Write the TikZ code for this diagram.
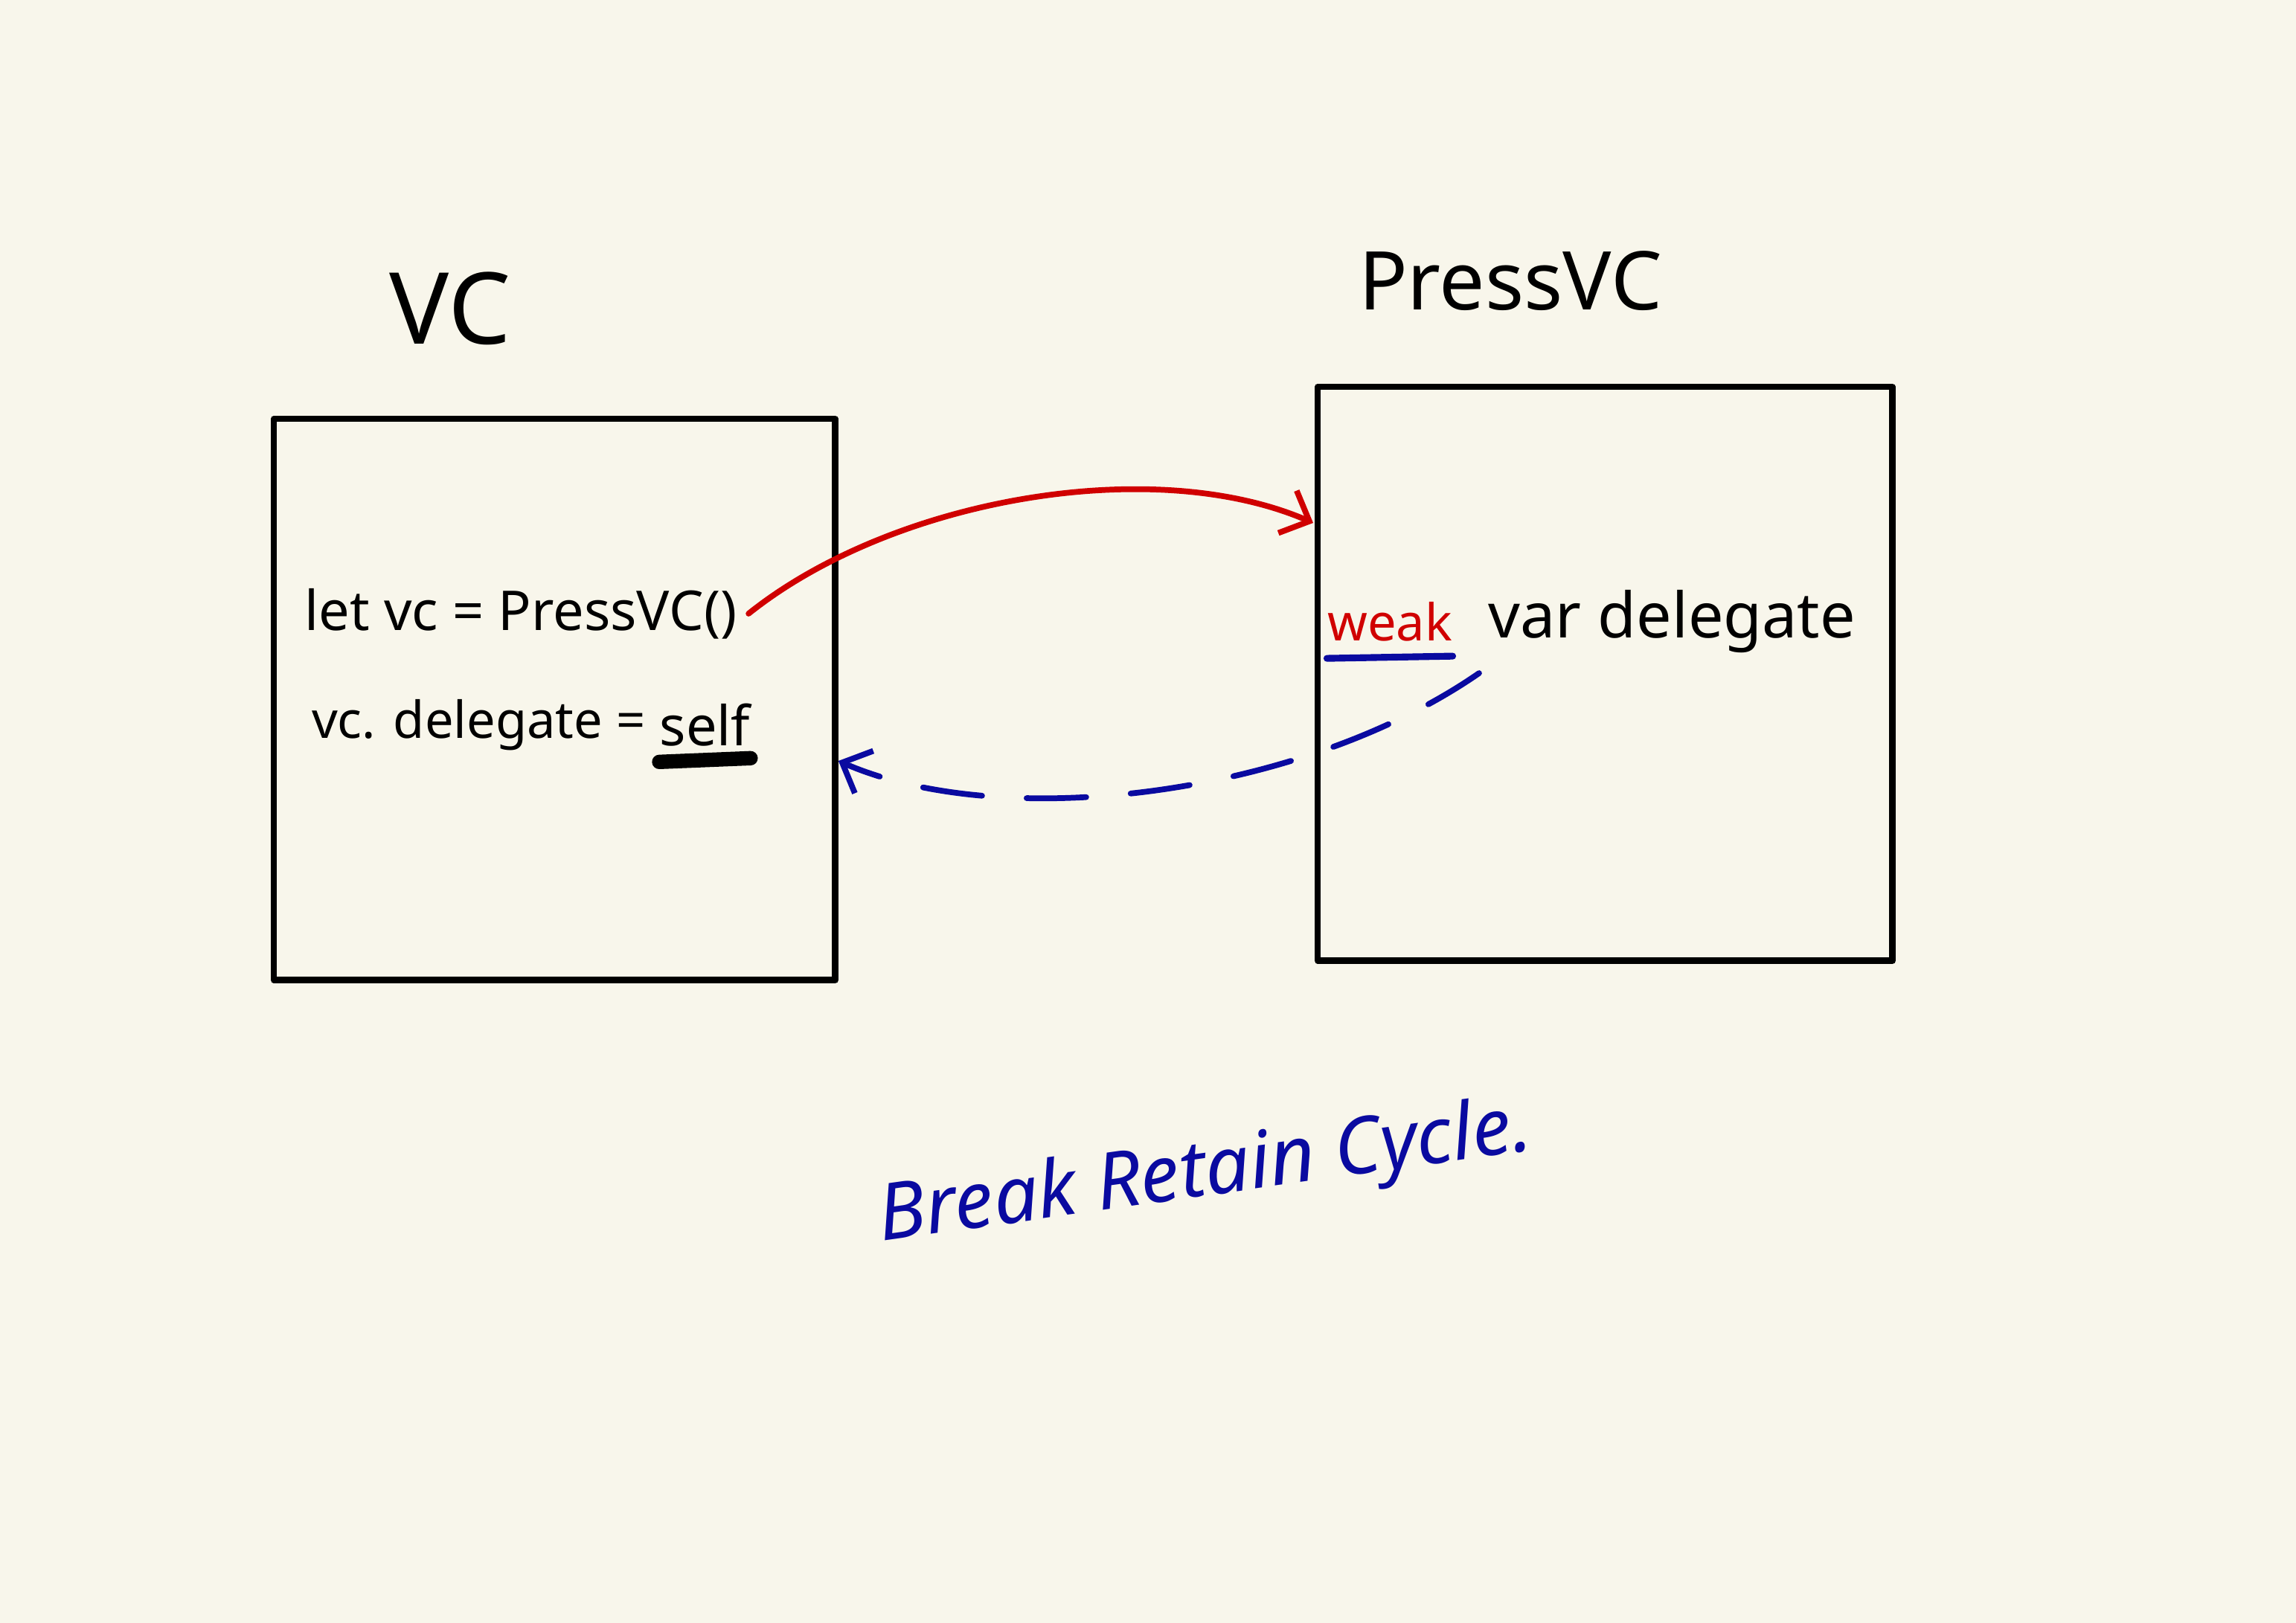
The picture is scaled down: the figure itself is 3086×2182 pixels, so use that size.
\documentclass[tikz,border=0pt]{standalone}
\usepackage{fontspec}
\setmainfont{Noto Sans}
\usetikzlibrary{arrows.meta}
\definecolor{paper}{HTML}{F8F6EB}
\definecolor{inkred}{RGB}{208,0,0}
\definecolor{inkblue}{RGB}{10,10,160}
\tikzset{
  box/.style={draw=black,line width=2.4pt,line join=round},
  hw/.style={inner sep=0pt,text=black},
  conn/.style={line width=2.2pt,line cap=round},
  barb/.style={-{Straight Barb[length=0.32cm,width=0.62cm,line width=2.2pt]}}
}
\begin{document}
\begin{tikzpicture}[x=0.01cm,y=0.01cm]
\fill[paper] (0,0) rectangle (3086,-2182);
\useasboundingbox (0,0) rectangle (3086,-2182);
% boxes
\node[box,minimum width=7.54cm,minimum height=7.54cm,anchor=north west] (vcbox) at (364,-559) {};
\node[box,minimum width=7.72cm,minimum height=7.71cm,anchor=north west] (pbox) at (1767,-516) {};
% titles
\node[hw,font=\fontsize{38}{44}\selectfont] (vct) at (605,-415) {VC};
\node[hw,font=\fontsize{31}{36}\selectfont] (pvct) at (2030,-378) {PressVC};
% code in VC
\node[hw,font=\fontsize{21}{26}\selectfont] (l1) at (700,-825) {let vc = PressVC()};
\node[hw,font=\fontsize{19.5}{24}\selectfont,anchor=east] (l2a) at (868,-975) {vc. delegate =};
\node[hw,font=\fontsize{21}{26}\selectfont,anchor=west] (self) at ([xshift=0.18cm]l2a.east) {self};
\draw[line width=5.5pt,line cap=round] ([yshift=-0.2cm]self.south west) -- ([yshift=-0.15cm]self.south east);
% code in PressVC
\node[hw,text=inkred,font=\fontsize{19.5}{24}\selectfont] (weak) at (1868,-836) {weak};
\node[hw,font=\fontsize{24}{28}\selectfont,anchor=west] (vard) at (2000,-836) {var delegate};
\draw[inkblue,line width=2.6pt,line cap=round] ([yshift=-0.22cm]weak.south west) -- ([yshift=-0.19cm]weak.south east);
% connectors
\coordinate (redend) at (1765,-703);
\draw[inkred,conn,barb] ([xshift=0.15cm]l1.east) .. controls (1200,-670) and (1550,-610) .. (redend);
\coordinate (bluestart) at (1988,-905);
\draw[inkblue,conn,barb,dash pattern=on 0.8cm off 0.6cm] (bluestart) .. controls (1750,-1070) and (1350,-1120) .. (vcbox.east |- 0,-1023);
% caption
\node[hw,text=inkblue,rotate=8,font=\fontsize{30}{36}\selectfont\itshape] (cap) at (1620,-1580) {Break Retain Cycle.};
\end{tikzpicture}
\end{document}
